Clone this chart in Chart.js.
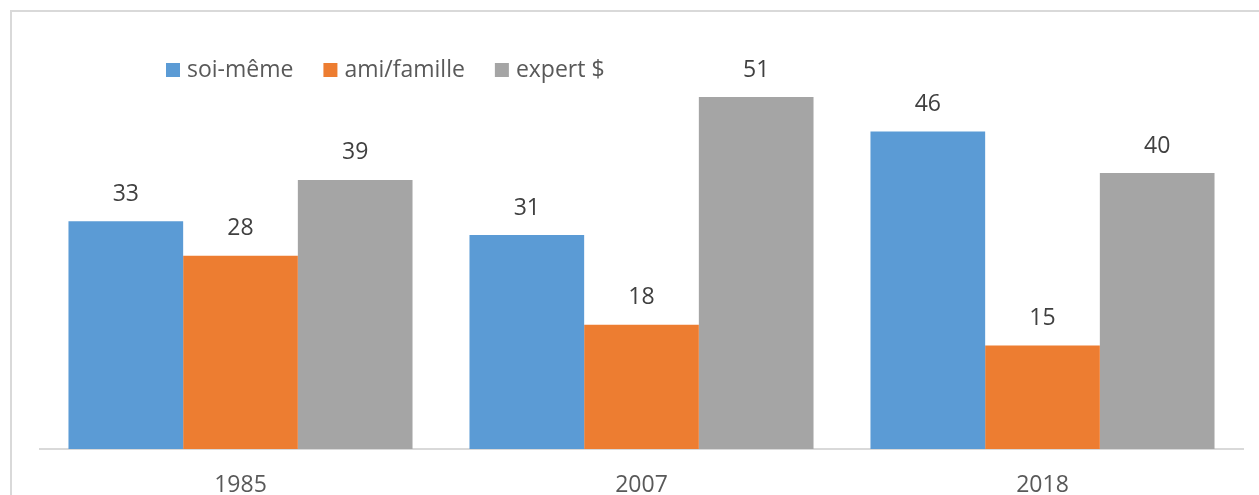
<!DOCTYPE html>
<html lang="fr">
<head>
  <meta charset="UTF-8" />
  <title>soi-même / ami/famille / expert $</title>
  <script src="https://cdn.jsdelivr.net/npm/chart.js"></script>
  <style>
    * { box-sizing: border-box; margin: 0; padding: 0; }
    body { width: 1259px; height: 495px; background: #fff; overflow: hidden; position: relative; }
    .frame {
      position: absolute; left: 10px; top: 10px;
      width: 1400px; height: 600px;
      border: 2px solid #d9d9d9;
    }
    #wrap { position: absolute; left: 0; top: 0; width: 1259px; height: 495px; }
  </style>
</head>
<body>
  <div class="frame"></div>
  <div id="wrap"><canvas id="chart" width="1259" height="495"></canvas></div>

  <script>
    const years = ["1985", "2007", "2018"];
    const seriesNames = ["soi-même", "ami/famille", "expert $"];
    const soiMeme = [33, 31, 46];
    const amiFamille = [28, 18, 15];
    const expert = [39, 51, 40];
    const colors = ["#5b9bd5", "#ed7d31", "#a5a5a5"];

    const font = "'Open Sans', 'Liberation Sans', sans-serif";

    // value labels above each bar
    const barLabels = {
      id: "barLabels",
      afterDatasetsDraw(chart) {
        const ctx = chart.ctx;
        ctx.save();
        ctx.font = "23px " + font;
        ctx.fillStyle = "#404040";
        ctx.textAlign = "center";
        ctx.textBaseline = "middle";
        chart.data.datasets.forEach((ds, i) => {
          chart.getDatasetMeta(i).data.forEach((bar, j) => {
            ctx.fillText(ds.data[j], bar.x, bar.y - 27);
          });
        });
        ctx.restore();
      }
    };

    // legend drawn over the plot, like the original
    const overLegend = {
      id: "overLegend",
      afterDraw(chart) {
        const ctx = chart.ctx;
        ctx.save();
        ctx.font = "23px " + font;
        ctx.textBaseline = "middle";
        let x = 166;
        const y = 70;
        chart.data.datasets.forEach(ds => {
          ctx.fillStyle = ds.backgroundColor;
          ctx.fillRect(x, y - 7, 14, 14);
          ctx.fillStyle = "#595959";
          ctx.fillText(ds.label, x + 21, y);
          x += 21 + ctx.measureText(ds.label).width + 30;
        });
        ctx.restore();
      }
    };

    new Chart(document.getElementById("chart"), {
      type: "bar",
      data: {
        labels: years,
        datasets: [
          { label: seriesNames[0], data: soiMeme, backgroundColor: colors[0] },
          { label: seriesNames[1], data: amiFamille, backgroundColor: colors[1] },
          { label: seriesNames[2], data: expert, backgroundColor: colors[2] }
        ]
      },
      options: {
        responsive: false,
        animation: false,
        maintainAspectRatio: false,
        layout: { padding: { left: 40, right: 16, top: 35, bottom: 0 } },
        datasets: { bar: { categoryPercentage: 0.858, barPercentage: 1 } },
        plugins: { legend: { display: false }, tooltip: { enabled: false } },
        scales: {
          x: {
            grid: { display: false },
            border: { display: true, color: "#d9d9d9", width: 2 },
            ticks: { color: "#595959", font: { family: font, size: 23 }, padding: 15 },
            afterFit(scale) { scale.height = 46; }
          },
          y: { display: false, min: 0, max: 60 }
        }
      },
      plugins: [barLabels, overLegend]
    });
  </script>
</body>
</html>
